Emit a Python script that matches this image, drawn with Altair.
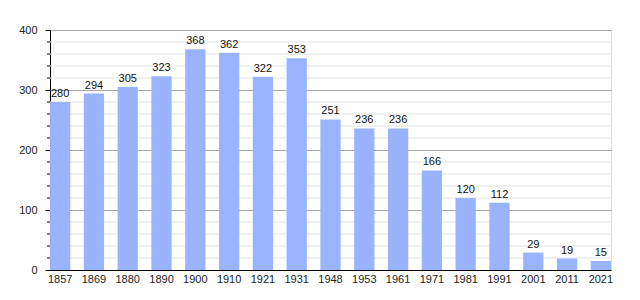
import altair as alt
import pandas as pd

years = ["1857", "1869", "1880", "1890", "1900", "1910", "1921", "1931", "1948",
         "1953", "1961", "1971", "1981", "1991", "2001", "2011", "2021"]
population = [280, 294, 305, 323, 368, 362, 322, 353, 251, 236, 236, 166, 120, 112, 29, 19, 15]
minor_values = [v for v in range(20, 400, 20) if v % 100 != 0]

df = pd.DataFrame({"year": years, "pop": population})
minor_df = pd.DataFrame({"v": minor_values})

FONT = "Liberation Sans"

x_enc = alt.X("year:N", sort=years, title=None,
              scale=alt.Scale(paddingInner=0.4, paddingOuter=0),
              axis=alt.Axis(labelAngle=0, tickSize=0, labelPadding=3, domainColor="black",
                            labelColor="#222", labelFontSize=11, labelFont=FONT))
y_scale = alt.Scale(domain=[0, 400], nice=False)

minor_grid = alt.Chart(minor_df).mark_rule(color="#e3e3e3", strokeWidth=1).encode(
    y=alt.Y("v:Q", scale=y_scale, title=None),
    x=alt.value(0), x2=alt.value(561),
)
minor_ticks = alt.Chart(minor_df).mark_rule(color="black", strokeWidth=1).encode(
    y=alt.Y("v:Q", scale=y_scale, title=None),
    x=alt.value(-3), x2=alt.value(0),
)

bars = alt.Chart(df).mark_bar(color="#99b3ff").encode(
    x=x_enc,
    y=alt.Y("pop:Q", scale=y_scale, title=None,
            axis=alt.Axis(values=[0, 100, 200, 300, 400], tickSize=5, tickColor="black",
                          domainColor="black", grid=True, gridColor="#a8a8a8",
                          labelPadding=8, labelColor="#222", labelFontSize=11, labelFont=FONT)),
)
labels = alt.Chart(df).mark_text(baseline="bottom", dy=-3, fontSize=11, font=FONT, color="#111").encode(
    x=alt.X("year:N", sort=years),
    y=alt.Y("pop:Q", scale=y_scale),
    text="pop:Q",
)

chart = alt.layer(minor_grid, bars, minor_ticks, labels).properties(
    width=561, height=240,
    padding={"left": 50, "top": 30, "right": 29, "bottom": 30},
    autosize=alt.AutoSizeParams(type="none"),
).configure_view(stroke=None).configure(background="white")

chart.save("out.html", embed_options={"renderer": "svg", "actions": False})
